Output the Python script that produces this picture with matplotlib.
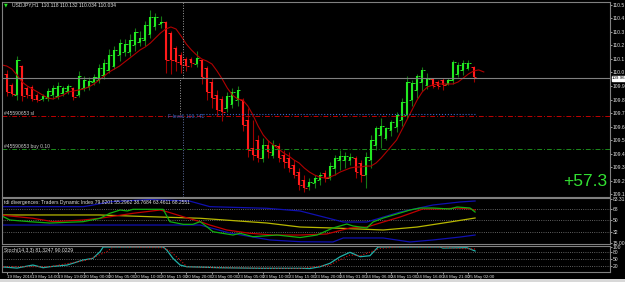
import numpy as np
import matplotlib.pyplot as plt
from matplotlib.patches import Rectangle

# USDJPY H1, one value per bar (bar 0 = 19 May 2016)
bar_open = [
    109.989, 109.907, 109.833, 110.048, 109.885, 109.893, 109.833, 109.804, 109.811, 109.833,
    109.826, 109.848, 109.863, 109.885, 109.833, 109.885, 109.893, 109.930, 109.944, 109.981,
    110.019, 110.048, 110.130, 110.152, 110.152, 110.204, 110.226, 110.241, 110.285, 110.344,
    110.359, 110.374, 110.293, 110.181, 110.130, 110.100, 110.100, 110.063, 110.093, 110.033,
    109.930, 109.833, 109.804, 109.737, 109.767, 109.796, 109.796, 109.648, 109.441, 109.500,
    109.367, 109.463, 109.389, 109.456, 109.389, 109.367, 109.315, 109.263, 109.204, 109.159,
    109.181, 109.204, 109.256, 109.218, 109.293, 109.352, 109.352, 109.352, 109.367, 109.330,
    109.241, 109.352, 109.463, 109.537, 109.515, 109.574, 109.596, 109.648, 109.685, 109.796,
    109.870, 109.930, 109.907, 109.952, 109.930, 109.944, 109.915, 109.944, 109.989, 110.019,
    110.033, 110.041]
bar_high = [
    110.019, 109.922, 110.122, 110.056, 109.900, 109.907, 109.848, 109.841, 109.885, 109.907,
    109.930, 109.900, 109.915, 109.893, 110.011, 109.974, 109.967, 109.989, 110.063, 110.100,
    110.174, 110.196, 110.248, 110.248, 110.285, 110.330, 110.307, 110.381, 110.463, 110.441,
    110.418, 110.381, 110.307, 110.196, 110.152, 110.115, 110.115, 110.159, 110.100, 110.048,
    109.959, 109.870, 109.826, 109.856, 109.885, 109.900, 109.811, 109.737, 109.648, 109.537,
    109.515, 109.500, 109.500, 109.478, 109.426, 109.411, 109.352, 109.293, 109.241, 109.218,
    109.241, 109.263, 109.278, 109.337, 109.389, 109.426, 109.411, 109.404, 109.381, 109.352,
    109.411, 109.537, 109.604, 109.663, 109.596, 109.648, 109.707, 109.811, 109.974, 109.944,
    109.989, 110.041, 109.996, 109.959, 109.944, 109.959, 109.959, 110.093, 110.078, 110.093,
    110.093, 110.048]
bar_low = [
    109.826, 109.826, 109.796, 109.789, 109.811, 109.789, 109.781, 109.789, 109.789, 109.804,
    109.804, 109.826, 109.841, 109.796, 109.819, 109.863, 109.870, 109.907, 109.922, 109.952,
    109.996, 110.026, 110.085, 110.122, 110.122, 110.159, 110.196, 110.196, 110.256, 110.315,
    110.330, 109.996, 109.989, 110.011, 109.996, 110.011, 110.041, 110.041, 109.915, 109.796,
    109.737, 109.678, 109.641, 109.707, 109.737, 109.752, 109.567, 109.374, 109.352, 109.337,
    109.337, 109.367, 109.367, 109.337, 109.293, 109.263, 109.218, 109.130, 109.115, 109.130,
    109.144, 109.167, 109.189, 109.204, 109.241, 109.278, 109.293, 109.315, 109.218, 109.189,
    109.144, 109.293, 109.426, 109.441, 109.500, 109.530, 109.559, 109.604, 109.663, 109.752,
    109.811, 109.863, 109.878, 109.885, 109.878, 109.870, 109.907, 109.915, 109.967, 109.981,
    110.019, 109.930]
bar_close = [
    109.856, 109.841, 110.093, 109.826, 109.833, 109.804, 109.796, 109.826, 109.863, 109.885,
    109.900, 109.885, 109.900, 109.819, 109.974, 109.944, 109.937, 109.967, 110.033, 110.070,
    110.130, 110.167, 110.218, 110.211, 110.241, 110.300, 110.256, 110.352, 110.411, 110.411,
    110.374, 110.093, 110.093, 110.078, 110.056, 110.048, 110.070, 110.107, 109.967, 109.856,
    109.811, 109.722, 109.707, 109.826, 109.856, 109.870, 109.611, 109.426, 109.389, 109.367,
    109.463, 109.411, 109.463, 109.367, 109.337, 109.293, 109.241, 109.167, 109.144, 109.189,
    109.218, 109.241, 109.218, 109.307, 109.367, 109.381, 109.381, 109.374, 109.263, 109.241,
    109.374, 109.500, 109.589, 109.604, 109.589, 109.633, 109.685, 109.781, 109.930, 109.922,
    109.974, 110.019, 109.952, 109.900, 109.900, 109.907, 109.944, 110.078, 110.056, 110.070,
    110.070, 109.967]

# moving average, starts one bar before bar 0
ma_vals = [
    110.056, 110.048, 110.026, 109.981, 109.930, 109.900, 109.878, 109.856, 109.833, 109.811,
    109.804, 109.819, 109.833, 109.856, 109.863, 109.870, 109.878, 109.893, 109.915, 109.944,
    109.974, 110.004, 110.026, 110.048, 110.078, 110.107, 110.137, 110.167, 110.189, 110.218,
    110.256, 110.293, 110.322, 110.337, 110.322, 110.270, 110.211, 110.167, 110.130, 110.100,
    110.085, 110.063, 110.011, 109.952, 109.885, 109.833, 109.804, 109.796, 109.752, 109.685,
    109.604, 109.537, 109.493, 109.463, 109.433, 109.404, 109.381, 109.352, 109.330, 109.293,
    109.263, 109.241, 109.226, 109.218, 109.226, 109.241, 109.263, 109.278, 109.293, 109.300,
    109.300, 109.307, 109.307, 109.330, 109.367, 109.411, 109.456, 109.500, 109.574, 109.648,
    109.722, 109.796, 109.856, 109.893, 109.907, 109.915, 109.915, 109.915, 109.915, 109.930,
    109.959, 109.989, 110.011, 110.019, 110.004]

bid_price = 109.957
sl_price = 109.676
buy_price = 109.431
level_price = 109.690
profit_text = "+57.3"
price_ticks = [109.1, 109.2, 109.3, 109.4, 109.5, 109.6, 109.7, 109.8, 109.9,
               110.0, 110.1, 110.2, 110.3, 110.4, 110.5]

# TDI lines (bar position, value)
tdi_green_x = [-1.3, 0.6, 4.5, 8.4, 14.9, 18.2, 20.1, 22.1, 23.5, 24.6, 30.5, 31.8, 34.4, 36.3,
               37.7, 39.0, 40.2, 44.1, 45.5, 48.0, 52.7, 57.2, 60.5, 63.6, 66.3, 67.5, 70.2,
               71.4, 73.4, 76.7, 78.6, 80.6, 83.1, 86.4, 87.8, 90.3, 91.3]
tdi_green_y = [58.5, 50.7, 48.1, 46.0, 48.1, 53.4, 61.1, 66.2, 64.7, 67.3, 67.3, 48.1, 44.0, 44.0,
               48.1, 40.3, 32.5, 27.4, 30.1, 24.8, 27.4, 23.5, 27.4, 38.3, 44.5, 41.4, 38.3,
               47.6, 53.8, 61.6, 66.2, 69.3, 69.3, 67.8, 70.9, 69.3, 63.1]
tdi_red_x = [-1.3, 5.1, 9.0, 14.9, 18.2, 24.6, 29.9, 31.2, 34.4, 37.7, 39.6, 42.9, 47.4, 51.9,
             57.2, 62.4, 66.9, 70.2, 73.4, 76.7, 81.1, 84.5, 87.8, 90.3, 91.3]
tdi_red_y = [58.5, 53.4, 48.1, 50.7, 53.4, 61.1, 66.2, 63.6, 55.8, 48.1, 42.9, 35.2, 30.1, 27.4,
             27.4, 29.0, 38.3, 39.8, 47.6, 55.4, 67.8, 67.8, 69.3, 67.8, 66.2]
tdi_yellow_x = [-1.3, 18.2, 28.0, 37.7, 50.7, 57.2, 63.6, 73.4, 80.0, 86.4, 91.3]
tdi_yellow_y = [58.5, 58.5, 55.8, 53.4, 46.05, 39.8, 38.3, 35.2, 39.8, 47.6, 53.8]
tdi_up_x = [-1.3, 14.9, 16.2, 20.1, 28.0, 35.7, 39.6, 50.7, 57.2, 65.6, 70.2, 76.7, 83.1, 88.4, 91.3]
tdi_up_y = [71.4, 71.4, 73.0, 79.0, 82.5, 80.0, 71.4, 68.9, 64.7, 47.6, 47.6, 63.1, 74.0, 78.7, 80.2]
tdi_lo_x = [-1.3, 37.7, 43.5, 51.3, 57.2, 63.6, 65.6, 73.4, 78.6, 83.1, 88.4, 91.3]
tdi_lo_y = [42.9, 42.9, 30.5, 19.7, 17.0, 16.6, 22.8, 22.8, 16.6, 19.7, 24.3, 27.4]
tdi_levels = [32, 50, 68]

# Stochastic (bar position, value)
st_main_x = [-1.3, 2.0, 5.1, 7.1, 8.4, 11.8, 14.9, 16.8, 18.2, 18.8, 30.5, 31.2, 32.4, 33.8, 35.1,
             41.6, 49.4, 57.2, 59.1, 61.1, 63.0, 65.0, 66.9, 68.9, 70.8, 72.4, 84.5, 85.0,
             89.7, 91.3]
st_main_y = [15.8, 10.0, 23.0, 11.5, 15.8, 23.0, 44.4, 51.7, 79.9, 100, 100, 87.0, 51.7, 23.0, 15.8,
             11.5, 9.0, 9.0, 8.0, 15.8, 30.3, 58.5, 77.4, 58.5, 62.8, 100, 100, 95.7, 97.0, 82.9]
st_sig_x = [-1.3, 8.4, 15.7, 19.5, 20.7, 30.5, 31.8, 33.8, 35.1, 41.6, 57.2, 63.0, 66.9, 68.9,
            72.8, 76.7, 84.5, 86.4, 91.3]
st_sig_y = [15.8, 15.8, 44.4, 79.9, 100, 97.0, 82.9, 44.4, 15.8, 11.5, 8.0, 23.1, 65.8, 62.8,
            94.4, 100, 100, 95.7, 91.3]
st_levels = [20, 50, 80]

time_labels = ["19 May 2016", "19 May 14:00", "19 May 19:00", "20 May 00:00", "20 May 05:00",
               "20 May 10:00", "20 May 15:00", "20 May 20:00", "23 May 00:00", "23 May 05:00",
               "23 May 10:00", "23 May 15:00", "23 May 20:00", "24 May 01:00", "24 May 06:00",
               "24 May 11:00", "24 May 16:00", "24 May 21:00", "25 May 02:00"]

W, H = 625, 282
GRID = '#808080'
TXT = '#e0e0e0'
FS = 3.6

plt.rcParams['font.family'] = ['Liberation Sans Narrow', 'Liberation Sans', 'DejaVu Sans']

fig = plt.figure(figsize=(W / 100, H / 100), dpi=100, facecolor='black')


def px_axes(x0, y0, x1, y1):
    ax = fig.add_axes([x0 / W, 1 - y1 / H, (x1 - x0) / W, (y1 - y0) / H])
    ax.set_facecolor('black')
    for s in ax.spines.values():
        s.set_color(GRID)
        s.set_linewidth(0.8)
    ax.yaxis.tick_right()
    ax.tick_params(axis='y', colors=TXT, labelsize=FS, length=1.2, width=0.5, pad=0.5)
    ax.tick_params(axis='x', bottom=False, labelbottom=False)
    ax.set_xlim(-0.92, 117.6)
    return ax


# ---- main price window
ax = px_axes(2, 2, 610, 197)
ax.set_ylim(109.078, 110.522)
ax.set_yticks(price_ticks)
ax.set_yticklabels(['%.1f' % p for p in price_ticks])

o = np.array(bar_open)
hi = np.array(bar_high)
lo = np.array(bar_low)
c = np.array(bar_close)
x = np.arange(len(c))
up = c >= o
bright = np.where(up, '#22e822', '#ff1a1a')
dark = np.where(up, '#157a15', '#a00000')
ax.vlines(x, lo, hi, colors=dark, lw=0.8)
ax.vlines(x, np.minimum(o, c), np.maximum(o, c), colors=bright, lw=1.5)
ax.hlines(o, x - 0.55, x - 0.1, colors=bright, lw=0.7)
ax.hlines(c, x + 0.1, x + 0.55, colors=bright, lw=0.7)

ax.plot(np.arange(len(ma_vals)) - 1, ma_vals, color='#b00000', lw=0.8)

ax.axhline(bid_price, color=GRID, lw=0.8)
ax.axhline(sl_price, color='#c00000', lw=0.7, dashes=(5, 2, 1, 2))
ax.axhline(buy_price, color='#1c8c1c', lw=0.7, dashes=(5, 2, 1, 2))
ax.hlines(level_price, 37.7, 91.5, color='#3a64c8', lw=0.8, linestyles=':')
ax.text(31.4, level_price, "F-level: 109.741", color='#3a64c8', fontsize=FS, va='top')

# vertical dotted marker
ax.vlines(34.3, bid_price, 110.522, color='#a0a0a0', lw=0.7, linestyles=':')
ax.vlines(33.8, level_price, bid_price, color='#a0a0a0', lw=0.7, linestyles=':')
ax.vlines(34.3, 109.078, level_price, color='#6070a0', lw=0.7, linestyles=':')

ax.text(-0.6, sl_price + 0.005, "#45590653 sl", color='#c8c8c8', fontsize=FS, va='bottom')
ax.text(-0.6, buy_price + 0.005, "#45590653 buy 0.10", color='#c8c8c8', fontsize=FS, va='bottom')

# current price box on the scale
ax.text(1.003, bid_price, "109.96", transform=ax.get_yaxis_transform(), color='black',
        fontsize=3.2, va='center', ha='left',
        bbox=dict(boxstyle='square,pad=0.05', fc='white', ec='white'))

fig.text(563 / W, 1 - 182 / H, profit_text, color='#32e032', fontsize=12.5,
         family='Liberation Sans', va='center', ha='left')
fig.text(12 / W, 1 - 5 / H, "USDJPY,H1  110.118 110.132 110.034 110.034", color=TXT,
         fontsize=FS, va='center', ha='left')
fig.text(4 / W, 1 - 5 / H, u"\u25bc", color='#22e822', fontsize=3.5, va='center', ha='left',
         family='DejaVu Sans')

# ---- TDI window
ax2 = px_axes(2, 198, 610, 244)
ax2.set_ylim(13.45, 84.86)
ax2.set_yticks([15, 32, 50, 68, 83.31])
ax2.set_yticklabels(['15.00', '32', '50', '68', '83.31'])
for lv in tdi_levels:
    ax2.axhline(lv, color=GRID, lw=0.6, ls=':')
ax2.plot(tdi_up_x, tdi_up_y, color='#1010b0', lw=0.9)
ax2.plot(tdi_lo_x, tdi_lo_y, color='#1010b0', lw=0.9)
ax2.plot(tdi_yellow_x, tdi_yellow_y, color='#b8b800', lw=0.9)
ax2.plot(tdi_red_x, tdi_red_y, color='#c00000', lw=0.9)
ax2.plot(tdi_green_x, tdi_green_y, color='#10b010', lw=0.9)
ax2.text(0.004, 0.95, "tdi divergences: Traders Dynamic Index 79.8201 55.2962 38.7684 63.4611 68.2551",
         transform=ax2.transAxes, color=TXT, fontsize=FS, va='top')

# ---- Stochastic window
ax3 = px_axes(2, 246, 610, 272)
ax3.set_ylim(-6.8, 104.3)
ax3.set_yticks([20, 50, 80, 100])
ax3.set_yticklabels(['20', '50', '80', '100'])
for lv in st_levels:
    ax3.axhline(lv, color=GRID, lw=0.6, ls=':')
ax3.plot(st_main_x, st_main_y, color='#20b2aa', lw=0.9)
ax3.plot(st_sig_x, st_sig_y, color='#d01010', lw=0.8, ls=':')
ax3.text(0.004, 0.93, "Stoch(14,3,3) 81.3247 90.0229", transform=ax3.transAxes,
         color=TXT, fontsize=FS, va='top')

ax3.set_xticks(np.arange(len(time_labels)) * 5)
ax3.set_xticklabels(time_labels)
ax3.tick_params(axis='x', bottom=True, labelbottom=True, colors=TXT, labelsize=3.2,
                length=1.5, width=0.5, pad=1)
for t in ax3.get_xticklabels():
    t.set_ha('left')

# status bar strip at the very bottom
fig.patches.append(Rectangle((0, 0), 1, 3 / H, transform=fig.transFigure,
                             fc='#d8d8d8', ec='none'))

fig.savefig('out.png', dpi=100, facecolor='black')
